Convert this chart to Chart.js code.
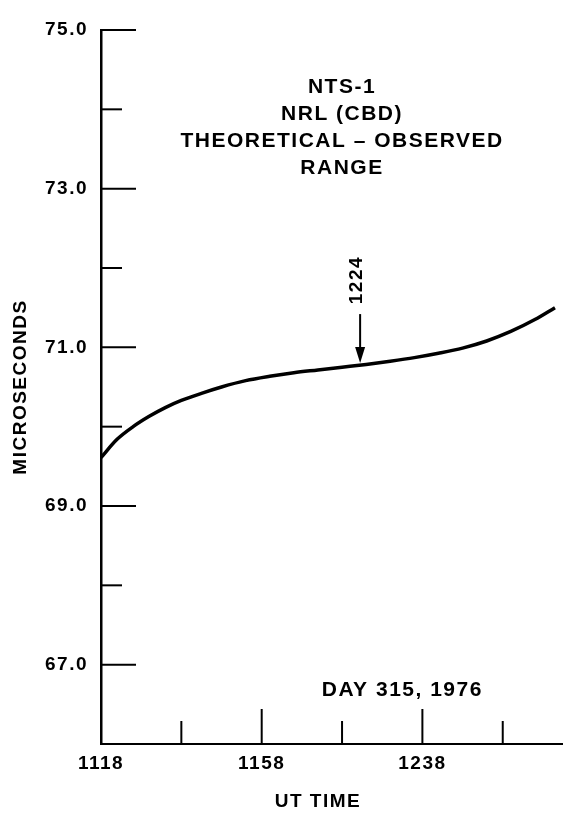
<!DOCTYPE html>
<html>
<head>
<meta charset="utf-8">
<script src="https://cdn.jsdelivr.net/npm/chart.js@4.4.1/dist/chart.umd.min.js"></script>
<style>
    html, body { margin: 0; padding: 0; background: #fff; }
    #wrap { width: 563px; height: 816px; }
</style>
</head>
<body>
<div id="wrap"><canvas id="chart"></canvas></div>
<script>
// ===== DATA =====
// minutes after 11:18 UT, day 315 1976
const minutes = [0, 4, 8, 12, 16, 20, 25, 30, 36, 42, 48, 54, 60, 66, 72, 78, 84, 90, 96, 102, 108, 113];
const microseconds = [69.61, 69.84, 70.00, 70.13, 70.24, 70.33, 70.42, 70.50, 70.58, 70.635, 70.68, 70.715,
                      70.75, 70.785, 70.825, 70.87, 70.925, 70.99, 71.08, 71.20, 71.35, 71.50];

const xTickMinutes = [0, 20, 40, 60, 80, 100];
const xTickLabels = ["1118", "", "1158", "", "1238", ""];

const yTickValues = [66, 67, 68, 69, 70, 71, 72, 73, 74, 75];
const yTickLabels = ["", "67.0", "", "69.0", "", "71.0", "", "73.0", "", "75.0"];

const titleLines = ["NTS-1", "NRL (CBD)", "THEORETICAL \u2013 OBSERVED", "RANGE"];
const dayLabel = "DAY 315, 1976";
const xTitle = "UT TIME";
const arrowMinute = 64.5;   // where the "1224" arrow points
const arrowLabel = "1224";

// ===== STYLE =====
const FONT = "'Liberation Sans', Arial, sans-serif";
const tickFont = { family: FONT, size: 19, weight: "bold" };

// ===== PLUGIN: inward ticks + notes =====
const notes = {
    id: "notes",
    beforeDraw(chart) {
        chart.ctx.letterSpacing = "1.5px";
    },
    afterDraw(chart) {
        const ctx = chart.ctx;
        const xs = chart.scales.x;
        const ys = chart.scales.y;
        const area = chart.chartArea;

        ctx.save();
        ctx.strokeStyle = "#000";
        ctx.fillStyle = "#000";
        ctx.lineWidth = 2;

        // y ticks pointing into the plot
        ys.ticks.forEach((t, i) => {
            if (t.value === ys.min) return;
            const py = ys.getPixelForValue(t.value);
            const len = yTickLabels[i] ? 35 : 21;
            ctx.beginPath();
            ctx.moveTo(area.left, py);
            ctx.lineTo(area.left + len, py);
            ctx.stroke();
        });

        // x ticks pointing up
        xs.ticks.forEach((t, i) => {
            if (t.value === xs.min) return;
            const px = xs.getPixelForValue(t.value);
            const len = xTickLabels[i] ? 35 : 23;
            ctx.beginPath();
            ctx.moveTo(px, area.bottom);
            ctx.lineTo(px, area.bottom - len);
            ctx.stroke();
        });

        // title block
        ctx.letterSpacing = "1.5px";
        ctx.font = "bold 21px " + FONT;
        ctx.textAlign = "center";
        ctx.textBaseline = "middle";
        const cx = xs.getPixelForValue(60);
        titleLines.forEach((line, i) => {
            ctx.fillText(line, cx, area.top + 57 + i * 27);
        });

        ctx.fillText(dayLabel, xs.getPixelForValue(75), ys.getPixelForValue(66.68));

        // x axis title, a bit left of centre as in the original
        ctx.font = "bold 19px " + FONT;
        ctx.fillText(xTitle, xs.getPixelForValue(54), chart.height - 14);

        // arrow to the curve
        let k = minutes.findIndex(m => m >= arrowMinute);
        let v = microseconds[k];
        if (k > 0 && minutes[k] !== arrowMinute) {
            const f = (arrowMinute - minutes[k - 1]) / (minutes[k] - minutes[k - 1]);
            v = microseconds[k - 1] + f * (microseconds[k] - microseconds[k - 1]);
        }
        const ax = xs.getPixelForValue(arrowMinute);
        const tip = ys.getPixelForValue(v) - 2;
        ctx.lineWidth = 2;
        ctx.beginPath();
        ctx.moveTo(ax, tip - 49);
        ctx.lineTo(ax, tip - 10);
        ctx.stroke();
        ctx.beginPath();
        ctx.moveTo(ax, tip);
        ctx.lineTo(ax - 5, tip - 16);
        ctx.lineTo(ax + 5, tip - 16);
        ctx.closePath();
        ctx.fill();

        ctx.save();
        ctx.translate(ax - 3, tip - 83);
        ctx.rotate(-Math.PI / 2);
        ctx.font = "bold 19px " + FONT;
        ctx.fillText(arrowLabel, 0, 0);
        ctx.restore();

        ctx.restore();
    }
};

// ===== CHART =====
new Chart(document.getElementById("chart"), {
    type: "line",
    data: {
        datasets: [{
            data: minutes.map((m, i) => ({ x: m, y: microseconds[i] })),
            borderColor: "#000",
            borderWidth: 3.5,
            pointRadius: 0,
            cubicInterpolationMode: "monotone",
            fill: false
        }]
    },
    options: {
        responsive: true,
        maintainAspectRatio: false,
        animation: false,
        layout: { padding: { top: 30, right: 0, bottom: 0, left: 0 } },
        plugins: { legend: { display: false }, tooltip: { enabled: false } },
        scales: {
            x: {
                type: "linear",
                min: 0,
                max: 115,
                afterBuildTicks: s => { s.ticks = xTickMinutes.map(v => ({ value: v })); },
                afterFit: s => { s.height = 72; },
                ticks: {
                    autoSkip: false,
                    maxRotation: 0,
                    padding: 8,
                    color: "#000",
                    font: tickFont,
                    callback: (v, i) => xTickLabels[i]
                },
                grid: { drawOnChartArea: false, drawTicks: false },
                border: { color: "#000", width: 2 }
            },
            y: {
                type: "linear",
                min: 66,
                max: 75,
                afterBuildTicks: s => { s.ticks = yTickValues.map(v => ({ value: v })); },
                afterFit: s => { s.width = 101; },
                ticks: {
                    autoSkip: false,
                    padding: 13,
                    color: "#000",
                    font: tickFont,
                    callback: (v, i) => yTickLabels[i]
                },
                grid: { drawOnChartArea: false, drawTicks: false },
                border: { color: "#000", width: 2.5 },
                title: {
                    display: true,
                    text: "MICROSECONDS",
                    color: "#000",
                    font: { family: FONT, size: 19, weight: "bold" },
                    padding: { top: 9, bottom: 0 }
                }
            }
        }
    },
    plugins: [notes]
});
</script>
</body>
</html>
